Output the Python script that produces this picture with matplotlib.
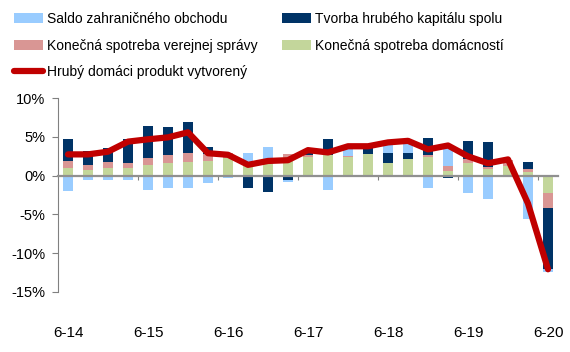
import numpy as np
import matplotlib
matplotlib.use('Agg')
import matplotlib.pyplot as plt
from matplotlib import font_manager

# quarterly data, 6-14 .. 6-20 (y/y contributions, %)
quarters = ['6-14', '9-14', '12-14', '3-15', '6-15', '9-15', '12-15', '3-16',
            '6-16', '9-16', '12-16', '3-17', '6-17', '9-17', '12-17', '3-18',
            '6-18', '9-18', '12-18', '3-19', '6-19', '9-19', '12-19', '3-20',
            '6-20']
households = [0.95, 0.73, 1.03, 1.03, 1.33, 1.63, 1.76, 1.94, 2.3, 1.38, 1.46,
              2.45, 2.4, 2.67, 2.4, 2.85, 1.65, 2.1, 2.37, 0.65, 1.6, 0.86,
              1.2, 0.5, -2.28]
government = [1.0, 0.6, 0.73, 0.56, 0.9, 1.03, 1.2, 0.8, 0.6, 0.05, -0.1,
              0.3, 0.25, 0.0, 0.18, -0.08, -0.1, 0.0, 0.26, 0.65, 0.5, 0.3,
              0.8, 0.3, -1.94]
capital = [2.75, 1.9, 1.76, 3.1, 4.2, 3.57, 3.96, 1.0, 0.0, -1.63, -2.0,
           -0.5, 0.55, 2.06, 0.0, 0.8, 1.25, 0.77, 2.2, -0.3, 2.4, 3.2,
           -0.18, 1.0, -7.87]
trade = [-2.0, -0.6, -0.6, -0.5, -1.85, -1.55, -1.63, -0.9, -0.35, 1.45,
         2.2, -0.35, 0.0, -1.85, 0.95, 0.0, 1.3, 1.5, -1.55, 2.67, -2.2,
         -3.0, 0.0, -5.6, -0.3]
gdp = [2.75, 2.75, 3.1, 4.4, 4.7, 4.95, 5.6, 2.9, 2.7, 1.4, 1.9, 2.0, 3.3,
       3.0, 3.8, 3.8, 4.3, 4.5, 3.4, 3.9, 2.5, 1.6, 2.1, -3.6, -12.1]

names = ['Saldo zahraničného obchodu', 'Tvorba hrubého kapitálu spolu',
         'Konečná spotreba verejnej správy', 'Konečná spotreba domácností',
         'Hrubý domáci produkt vytvorený']
col_trade = '#99ccff'
col_cap = '#003366'
col_gov = '#d99694'
col_hh = '#c3d69b'
col_gdp = '#c00000'

plt.rcParams['font.family'] = ['Liberation Sans', 'DejaVu Sans']

# legend font looks like Calibri -> narrow sans if we have it
avail = {f.name for f in font_manager.fontManager.ttflist}
if 'Liberation Sans Narrow' in avail:
    leg_prop = {'family': 'Liberation Sans Narrow', 'size': 12.2}
else:
    leg_prop = {'family': 'Liberation Sans', 'size': 10}

fig = plt.figure(figsize=(5.7, 3.52), dpi=100)
ax = fig.add_axes([58 / 570, 1 - 291.7 / 352, 500 / 570, 193.4 / 352])

x = np.arange(len(quarters))
pos = np.zeros(len(x))
neg = np.zeros(len(x))
bars = {}
# stack order from the zero line outwards: households, government, capital, trade
for key, vals, col in [('hh', households, col_hh), ('gov', government, col_gov),
                       ('cap', capital, col_cap), ('trade', trade, col_trade)]:
    v = np.array(vals)
    base = np.where(v >= 0, pos, neg)
    bars[key] = ax.bar(x, v, 0.5, bottom=base, color=col, zorder=2)
    pos = pos + np.where(v >= 0, v, 0)
    neg = neg + np.where(v < 0, v, 0)

line, = ax.plot(x, gdp, color=col_gdp, lw=4.5, solid_joinstyle='round',
                solid_capstyle='round', zorder=4)

ax.set_xlim(-0.5, len(x) - 0.5)
ax.set_ylim(-15, 10)
ax.set_yticks([-15, -10, -5, 0, 5, 10])
ax.set_yticklabels(['%d%%' % v for v in [-15, -10, -5, 0, 5, 10]], fontsize=10.5)
ax.tick_params(axis='y', length=4, color='#808080', pad=5)

for s in ['top', 'right']:
    ax.spines[s].set_visible(False)
ax.spines['left'].set_color('#808080')
ax.spines['bottom'].set_position(('data', 0))
ax.spines['bottom'].set_color('#909090')
ax.spines['bottom'].set_linewidth(1.6)
ax.spines['bottom'].set_zorder(3)

# tick marks on the zero line between years, labels at the bottom
ax.set_xticks(np.arange(3.5, len(x) - 1, 4))
ax.set_xticklabels([])
ax.tick_params(axis='x', length=3, color='#808080', direction='out')
for i in range(0, len(x), 4):
    ax.text(i, -0.215, quarters[i], transform=ax.get_xaxis_transform(),
            ha='center', va='center', fontsize=11)

# legend in two columns, placed separately
em = leg_prop['size'] * 100 / 72.0
leg_kw = dict(loc='upper left', frameon=False, prop=leg_prop,
              handlelength=29 / em, handleheight=10 / em,
              handletextpad=4 / em, labelspacing=0.91,
              borderpad=0.0, borderaxespad=0)
fig.legend([bars['trade'], bars['gov'], line], [names[0], names[2], names[4]],
           bbox_to_anchor=(14 / 570, 1 - 12 / 352), **leg_kw)
fig.legend([bars['cap'], bars['hh']], [names[1], names[3]],
           bbox_to_anchor=(282 / 570, 1 - 12 / 352), **leg_kw)

fig.savefig('out.png', dpi=100)
